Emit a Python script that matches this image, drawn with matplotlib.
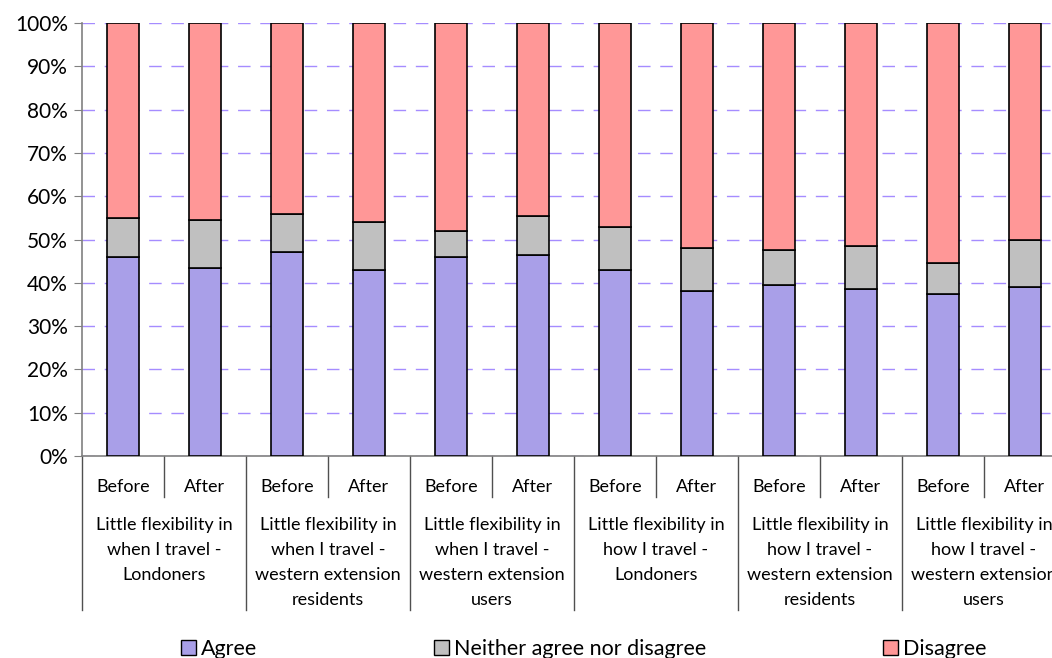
import numpy as np
import matplotlib.pyplot as plt
from matplotlib.patches import Patch

plt.rcParams['font.family'] = ['Lato', 'DejaVu Sans']

# values (percent)
periods = ['Before', 'After'] * 6
groups = ['Little flexibility in\nwhen I travel -\nLondoners',
          'Little flexibility in\nwhen I travel -\nwestern extension\nresidents',
          'Little flexibility in\nwhen I travel -\nwestern extension\nusers',
          'Little flexibility in\nhow I travel -\nLondoners',
          'Little flexibility in\nhow I travel -\nwestern extension\nresidents',
          'Little flexibility in\nhow I travel -\nwestern extension\nusers']
agree = np.array([46.0, 43.5, 47.0, 43.0, 46.0, 46.5, 43.0, 38.0, 39.5, 38.5, 37.5, 39.0])
neither = np.array([9.0, 11.0, 9.0, 11.0, 6.0, 9.0, 10.0, 10.0, 8.0, 10.0, 7.0, 11.0])
disagree = 100 - agree - neither

c_agree = '#a99fe8'
c_neither = '#c0c0c0'
c_dis = '#ff9797'

fig = plt.figure(figsize=(10.52, 6.58), dpi=100)
ax = fig.add_axes([82/1052, 1-456/658, 984/1052, 433/658])

x = np.arange(len(agree))
w = 0.39
ax.bar(x, agree, w, color=c_agree, edgecolor='black', lw=1.2, zorder=3)
ax.bar(x, neither, w, bottom=agree, color=c_neither, edgecolor='black', lw=1.2, zorder=3)
ax.bar(x, disagree, w, bottom=agree+neither, color=c_dis, edgecolor='black', lw=1.2, zorder=3)

ax.set_xlim(-0.5, 11.5)
ax.set_ylim(0, 100)
ax.set_yticks(np.arange(0, 101, 10))
ax.set_yticklabels([f'{v}%' for v in range(0, 101, 10)], fontsize=15)
ax.yaxis.grid(True, color='#a58cff', ls=(0, (9, 7)), lw=1, zorder=0)
ax.tick_params(axis='y', length=6, color='#808080', pad=4)
ax.set_xticks([])
for s in ['top', 'right']:
    ax.spines[s].set_visible(False)
for s in ['left', 'bottom']:
    ax.spines[s].set_color('#808080')
    ax.spines[s].set_linewidth(1.2)

# category axis: inner labels, group labels and separators
tr = ax.get_xaxis_transform()
for i, p in enumerate(periods):
    ax.text(x[i], -0.071, p, transform=tr, ha='center', va='center', fontsize=13)
for i in range(len(x) + 1):
    bottom = -0.356 if i % 2 == 0 else -0.0947
    ax.plot([i - 0.5, i - 0.5], [0, bottom], transform=tr, color='#505050', lw=1, clip_on=False)
for g, lab in enumerate(groups):
    ax.text(2*g + 0.5, -0.142, lab, transform=tr, ha='center', va='top',
            fontsize=13, linespacing=1.68)

# legend
items = [('Agree', c_agree, 185), ('Neither agree nor disagree', c_neither, 438),
         ('Disagree', c_dis, 887)]
for lab, col, px in items:
    fig.legend(handles=[Patch(facecolor=col, edgecolor='black', lw=1)], labels=[lab],
               loc='center left', bbox_to_anchor=(px/1052 - 0.004, 1 - 649/658),
               frameon=False, fontsize=15.5, handlelength=0.7, handleheight=0.7,
               handletextpad=0.25, borderpad=0, borderaxespad=0)

fig.savefig('out.png', dpi=100)
